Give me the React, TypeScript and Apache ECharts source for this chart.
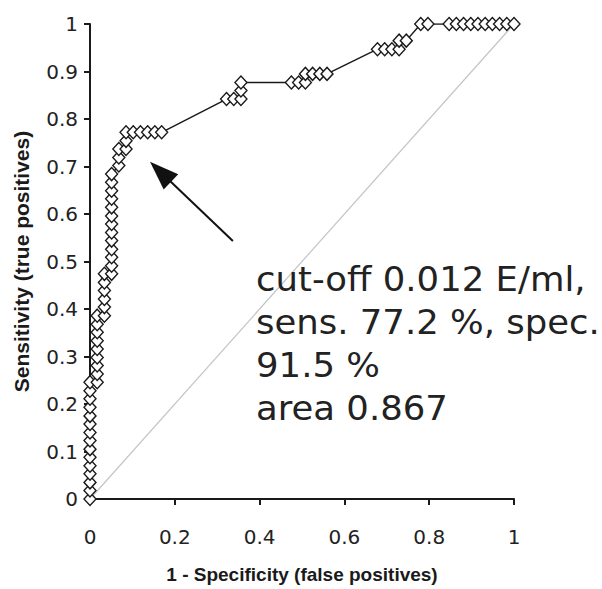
import React, { useEffect, useRef } from "react";
import * as echarts from "echarts";

// ROC curve points
const fpr = [
  0, 0, 0, 0, 0, 0, 0, 0, 0, 0, 0, 0, 0, 0, 0,
  0.017, 0.017, 0.017, 0.017, 0.017, 0.017, 0.017, 0.017, 0.017,
  0.034, 0.034, 0.034, 0.034, 0.034, 0.034,
  0.051, 0.051, 0.051, 0.051, 0.051, 0.051, 0.051, 0.051, 0.051, 0.051, 0.051, 0.051, 0.051,
  0.068, 0.068, 0.068,
  0.085, 0.085, 0.085,
  0.102, 0.119, 0.136, 0.153, 0.169,
  0.322, 0.339, 0.356, 0.356, 0.356,
  0.475, 0.492, 0.508, 0.508, 0.525, 0.542, 0.559,
  0.678, 0.695, 0.712, 0.729, 0.729, 0.746,
  0.78, 0.797,
  0.847, 0.864, 0.881, 0.898, 0.915, 0.932, 0.949, 0.966, 0.983, 1,
];
const tpr = [
  0, 0.018, 0.035, 0.053, 0.07, 0.088, 0.105, 0.123, 0.14, 0.158, 0.175, 0.193, 0.211, 0.228, 0.246,
  0.246, 0.263, 0.281, 0.298, 0.316, 0.333, 0.351, 0.368, 0.386,
  0.386, 0.404, 0.421, 0.439, 0.456, 0.474,
  0.474, 0.491, 0.509, 0.526, 0.544, 0.561, 0.579, 0.596, 0.614, 0.632, 0.649, 0.667, 0.684,
  0.702, 0.719, 0.737,
  0.737, 0.754, 0.772,
  0.772, 0.772, 0.772, 0.772, 0.772,
  0.842, 0.842, 0.842, 0.86, 0.877,
  0.877, 0.877, 0.877, 0.895, 0.895, 0.895, 0.895,
  0.947, 0.947, 0.947, 0.947, 0.965, 0.965,
  1, 1,
  1, 1, 1, 1, 1, 1, 1, 1, 1, 1,
];
const diagonalX = [0, 1];
const diagonalY = [0, 1];

// arrow annotation, in data coordinates
const arrowTail = [0.337, 0.543];
const arrowTip = [0.1415, 0.71];

const annotationLines = [
  "cut-off 0.012 E/ml,",
  "sens. 77.2 %, spec.",
  "91.5 %",
  "area 0.867",
];

const xTitle = "1 - Specificity (false positives)";
const yTitle = "Sensitivity (true positives)";

export default function App() {
  const ref = useRef<HTMLDivElement>(null);
  useEffect(() => {
    if (!ref.current) return;
    const chart = echarts.init(ref.current, null, { renderer: "svg" });
    const rocData = fpr.map((x, i) => [x, tpr[i]]);
    const diagData = diagonalX.map((x, i) => [x, diagonalY[i]]);
    chart.setOption({
      animation: false,
      backgroundColor: "#ffffff",
      grid: { left: 90, right: 88, top: 24, bottom: 86 },
      xAxis: {
        type: "value",
        min: 0,
        max: 1,
        interval: 0.2,
        name: xTitle,
        nameLocation: "middle",
        nameGap: 66,
        nameTextStyle: {
          fontFamily: "Liberation Sans",
          fontWeight: "bold",
          fontSize: 19,
          color: "#1a1a1a",
        },
        axisLine: { show: true, onZero: false, lineStyle: { color: "#1a1a1a", width: 2 } },
        axisTick: { show: true, inside: false, length: 6, lineStyle: { color: "#1a1a1a", width: 2 } },
        axisLabel: {
          margin: 28,
          fontFamily: "DejaVu Sans",
          fontSize: 20,
          color: "#222",
        },
        splitLine: { show: false },
      },
      yAxis: {
        type: "value",
        min: 0,
        max: 1,
        interval: 0.1,
        name: yTitle,
        nameLocation: "middle",
        nameGap: 58,
        nameTextStyle: {
          fontFamily: "Liberation Sans",
          fontWeight: "bold",
          fontSize: 21,
          color: "#1a1a1a",
        },
        axisLine: { show: true, onZero: false, lineStyle: { color: "#1a1a1a", width: 2 } },
        axisTick: { show: true, inside: false, length: 6, lineStyle: { color: "#1a1a1a", width: 2 } },
        axisLabel: {
          margin: 12,
          fontFamily: "DejaVu Sans",
          fontSize: 20,
          color: "#222",
        },
        splitLine: { show: false },
      },
      series: [
        {
          type: "line",
          data: diagData,
          symbol: "none",
          lineStyle: { color: "#c4c4c4", width: 1.2 },
          z: 1,
          silent: true,
        },
        {
          type: "line",
          data: rocData,
          symbol: "diamond",
          symbolSize: [12, 13],
          showSymbol: true,
          showAllSymbol: true,
          itemStyle: { color: "#ffffff", borderColor: "#1a1a1a", borderWidth: 1.4 },
          lineStyle: { color: "#1a1a1a", width: 1.5 },
          z: 3,
        },
      ],
    });

    const tail = chart.convertToPixel({ gridIndex: 0 }, arrowTail) as number[];
    const tip = chart.convertToPixel({ gridIndex: 0 }, arrowTip) as number[];
    const dx = tip[0] - tail[0];
    const dy = tip[1] - tail[1];
    const len = Math.sqrt(dx * dx + dy * dy);
    const ux = dx / len;
    const uy = dy / len;
    const headLen = 29;
    const headHalf = 10.5;
    const bx = tip[0] - ux * headLen;
    const by = tip[1] - uy * headLen;
    const nx = -uy;
    const ny = ux;

    chart.setOption({
      graphic: [
        {
          type: "line",
          shape: { x1: tail[0], y1: tail[1], x2: bx + ux * 2, y2: by + uy * 2 },
          style: { stroke: "#111", lineWidth: 2 },
          z: 10,
        },
        {
          type: "polygon",
          shape: {
            points: [
              [tip[0], tip[1]],
              [bx + nx * headHalf, by + ny * headHalf],
              [bx - nx * headHalf, by - ny * headHalf],
            ],
          },
          style: { fill: "#111" },
          z: 10,
        },
        {
          type: "text",
          left: 256,
          top: 258,
          scaleX: 1.075,
          z: 10,
          style: {
            text: annotationLines.join("\n"),
            fontFamily: "DejaVu Sans",
            fontSize: 33,
            lineHeight: 43,
            fill: "#222",
          },
        },
      ],
    });

    return () => chart.dispose();
  }, []);
  return (
    <div
      ref={ref}
      style={{ position: "fixed", left: 0, top: 0, width: 602, height: 589 }}
    />
  );
}
